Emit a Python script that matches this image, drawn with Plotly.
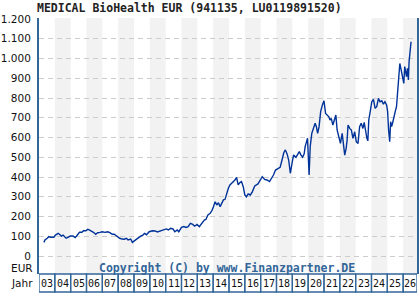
import plotly.graph_objects as go

# ---- data ----
dates = [2003.31, 2003.375, 2003.52, 2003.62, 2003.73, 2003.94, 2004.04, 2004.21, 2004.29, 2004.42,
         2004.52, 2004.625, 2004.71, 2004.83, 2004.98, 2005.15, 2005.29, 2005.46, 2005.56, 2005.71,
         2005.81, 2005.96, 2006.08, 2006.17, 2006.29, 2006.44, 2006.58, 2006.71, 2006.85, 2006.99,
         2007.17, 2007.33, 2007.48, 2007.625, 2007.75, 2007.9, 2008.0, 2008.1, 2008.25, 2008.375,
         2008.52, 2008.625, 2008.79, 2008.9, 2009.04, 2009.15, 2009.29, 2009.42, 2009.56, 2009.67,
         2009.79, 2009.96, 2010.17, 2010.33, 2010.48, 2010.69, 2010.9, 2011.04, 2011.17, 2011.31,
         2011.46, 2011.58, 2011.73, 2011.83, 2012.0, 2012.15, 2012.29, 2012.42, 2012.56, 2012.71,
         2012.83, 2012.98, 2013.125, 2013.29, 2013.44, 2013.54, 2013.67, 2013.81, 2013.92, 2014.02,
         2014.125, 2014.23, 2014.33, 2014.44, 2014.54, 2014.65, 2014.75, 2014.85, 2014.96, 2015.06,
         2015.21, 2015.375, 2015.48, 2015.58, 2015.69, 2015.79, 2015.9, 2016.0, 2016.1, 2016.21,
         2016.35, 2016.48, 2016.625, 2016.83, 2016.98, 2017.1, 2017.25, 2017.4, 2017.56, 2017.69,
         2017.81, 2017.94, 2018.08, 2018.23, 2018.35, 2018.46, 2018.56, 2018.67, 2018.77, 2018.875,
         2018.98, 2019.08, 2019.23, 2019.33, 2019.44, 2019.54, 2019.65, 2019.75, 2019.81, 2019.9,
         2019.96, 2020.06, 2020.13, 2020.23, 2020.31, 2020.375, 2020.44, 2020.52, 2020.6, 2020.69,
         2020.79, 2020.9, 2021.0, 2021.1, 2021.21, 2021.31, 2021.375, 2021.46, 2021.56, 2021.67,
         2021.75, 2021.83, 2021.94, 2022.04, 2022.15, 2022.25, 2022.31, 2022.4, 2022.46, 2022.52,
         2022.625, 2022.73, 2022.83, 2022.94, 2023.04, 2023.15, 2023.25, 2023.35, 2023.46, 2023.54,
         2023.625, 2023.71, 2023.77, 2023.83, 2023.92, 2024.02, 2024.125, 2024.23, 2024.33, 2024.44,
         2024.54, 2024.65, 2024.75, 2024.85, 2024.96, 2025.02, 2025.08, 2025.15, 2025.21, 2025.27,
         2025.33, 2025.42, 2025.5, 2025.58, 2025.625, 2025.69, 2025.75, 2025.79, 2025.875, 2025.96,
         2026.04, 2026.1, 2026.21, 2026.27, 2026.33, 2026.375, 2026.46, 2026.5]
prices = [69, 81, 90, 98, 95, 95, 106, 115, 110, 101,
          106, 95, 90, 95, 101, 101, 93, 110, 120, 120,
          128, 128, 135, 132, 127, 120, 110, 118, 120, 123,
          120, 123, 118, 110, 110, 101, 95, 90, 86, 85,
          90, 81, 86, 69, 78, 86, 93, 101, 106, 115,
          108, 123, 128, 127, 122, 128, 132, 137, 132, 140,
          137, 123, 132, 123, 145, 149, 145, 149, 165, 160,
          151, 160, 149, 165, 182, 185, 208, 216, 230, 250,
          275, 258, 270, 250, 270, 284, 287, 317, 343, 360,
          371, 385, 398, 360, 372, 377, 351, 309, 300, 314,
          309, 326, 355, 365, 385, 402, 388, 385, 377, 394,
          410, 435, 444, 449, 486, 523, 537, 517, 486, 419,
          469, 512, 500, 512, 529, 512, 500, 517, 554, 579,
          596, 410, 554, 621, 638, 655, 672, 655, 621, 655,
          731, 765, 786, 722, 714, 705, 689, 697, 663, 697,
          714, 638, 604, 570, 621, 537, 511, 545, 587, 663,
          646, 638, 596, 629, 579, 570, 655, 672, 646, 676,
          621, 596, 583, 689, 731, 781, 793, 748, 756, 798,
          781, 786, 769, 781, 764, 731, 638, 579, 680, 655,
          672, 714, 731, 756, 815, 866, 925, 975, 942, 908,
          874, 959, 908, 950, 891, 984, 1080, 1085]

year_labels = ["03", "04", "05", "06", "07", "08", "09", "10", "11", "12", "13", "14",
               "15", "16", "17", "18", "19", "20", "21", "22", "23", "24", "25", "26"]
year_starts = [2003 + i for i in range(len(year_labels))]
y_ticks = [0, 100, 200, 300, 400, 500, 600, 700, 800, 900, 1000, 1100, 1200]
y_tick_text = ["0", "100", "200", "300", "400", "500", "600", "700", "800", "900",
               "1.000", "1.100", "1.200"]

title_text = "MEDICAL BioHealth EUR (941135, LU0119891520)"
copyright_text = "Copyright (C) by www.Finanzpartner.DE"

X_MIN, X_MAX = 2003.0, 2026.875
Y_MIN, Y_MAX = -91, 1205
BLUE = "#336699"

fig = go.Figure()
fig.add_trace(go.Scatter(x=dates, y=prices, mode="lines",
                         line=dict(color="#003399", width=1.4), hoverinfo="skip"))

shapes = []
annotations = []
box_h = 18 / 256
for lab, ys in zip(year_labels, year_starts):
    x1 = min(ys + 1, X_MAX)
    if ys % 2 == 0:
        shapes.append(dict(type="rect", xref="x", yref="paper", x0=ys, x1=x1, y0=0, y1=1,
                           fillcolor="#f2f2f2", line=dict(width=0), layer="below"))
    shapes.append(dict(type="rect", xref="x", yref="paper", x0=ys, x1=x1, y0=-box_h, y1=0,
                       fillcolor="rgba(0,0,0,0)", line=dict(color=BLUE, width=1.3)))
    annotations.append(dict(text=lab, xref="x", yref="paper", x=(ys + x1) / 2, y=-box_h / 2,
                            showarrow=False, xanchor="center", yanchor="middle",
                            font=dict(family="DejaVu Sans Mono", size=10, color="#111111")))

annotations.append(dict(text="<b>" + title_text + "</b>", xref="paper", yref="paper",
                        x=0, y=1, xshift=-4, yshift=1,
                        xanchor="left", yanchor="bottom", showarrow=False,
                        font=dict(family="DejaVu Sans Mono", size=11.5, color="#222222")))
annotations.append(dict(text="<b>" + copyright_text + "</b>", xref="paper", yref="paper",
                        x=(227 - 37) / 382, y=(274 - 268) / 256, xanchor="center", yanchor="middle",
                        showarrow=False,
                        font=dict(family="DejaVu Sans Mono", size=11.5, color=BLUE)))
annotations.append(dict(text="EUR", xref="paper", yref="y", x=0, y=-62, xshift=-4,
                        xanchor="right", yanchor="middle", showarrow=False,
                        font=dict(family="DejaVu Sans", size=10.5, color="#111111")))
annotations.append(dict(text="Jahr", xref="paper", yref="paper", x=0, y=-box_h / 2, xshift=-4,
                        xanchor="right", yanchor="middle", showarrow=False,
                        font=dict(family="DejaVu Sans", size=10.5, color="#111111")))

fig.update_layout(
    width=420, height=300,
    margin=dict(l=37, r=1, t=18, b=26),
    paper_bgcolor="white", plot_bgcolor="white",
    showlegend=False,
    shapes=shapes, annotations=annotations,
    xaxis=dict(range=[X_MIN, X_MAX], showgrid=False, zeroline=False, showticklabels=False,
               ticks="", showline=False, fixedrange=True),
    yaxis=dict(range=[Y_MIN, Y_MAX], tickvals=y_ticks, ticktext=y_tick_text,
               showgrid=True, gridcolor="#cccccc", griddash="5px,4px", gridwidth=1,
               zeroline=False, showline=True, linecolor=BLUE, linewidth=2, mirror=True,
               ticks="", ticklabelstandoff=4,
               tickfont=dict(family="DejaVu Sans", size=10.5, color="#111111")),
)

fig.write_html("out.html")
